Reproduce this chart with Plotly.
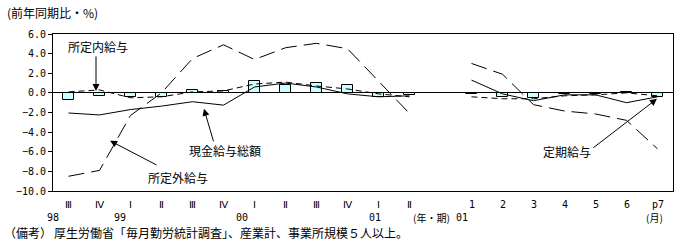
import plotly.graph_objects as go

# slots: 12 quarters (98 III .. 01 II), one empty slot, 7 months (01/1 .. p7)
slot_labels = ["Ⅲ", "Ⅳ", "Ⅰ", "Ⅱ", "Ⅲ", "Ⅳ", "Ⅰ", "Ⅱ", "Ⅲ", "Ⅳ", "Ⅰ", "Ⅱ", "",
               "1", "2", "3", "4", "5", "6", "p7"]
x_idx = list(range(len(slot_labels)))

# 定期給与 (bars)
teiki = [-0.7, -0.35, -0.4, -0.4, 0.27, 0.17, 1.2, 0.8, 1.0, 0.8, -0.4, -0.2, None,
         -0.1, -0.45, -0.5, -0.1, -0.1, 0.1, -0.45]
# 現金給与総額 (solid)
genkin = [-2.05, -2.25, -1.7, -1.35, -0.9, -1.25, 0.6, 1.0, 0.6, -0.1, -0.4, -0.3, None,
          1.3, -0.1, -0.8, -0.2, -0.2, -1.0, -0.4]
# 所定内給与 (short dash)
shoteinai = [0.1, 0.3, -0.5, -0.4, 0.1, 0.2, 0.9, 1.1, 0.7, 0.4, -0.1, -0.4, None,
             -0.4, -0.6, -0.6, -0.3, -0.2, 0.0, -0.3]
# 所定外給与 (long dash)
shoteigai = [-8.5, -7.9, -2.3, 0.0, 3.5, 4.9, 3.4, 4.6, 5.05, 4.5, 1.2, -2.1, None,
             3.0, 1.9, -1.2, -1.85, -2.15, -2.8, -5.7]

# year labels (text, x position in slot units)
year_labels = ["98", "99", "00", "01", "(月)"]
year_pos = [-0.5, 1.66, 5.6, 9.9, 18.9]
period_label = "(年・期)"
month_year_label = "01"

FONT = "Noto Sans CJK JP"
MONO = "DejaVu Sans Mono"

fig = go.Figure()
fig.add_trace(go.Bar(x=x_idx, y=teiki, width=0.37,
                     marker=dict(color="#ccffff", line=dict(color="black", width=1)),
                     showlegend=False))
fig.add_trace(go.Scatter(x=x_idx, y=shoteigai, mode="lines", connectgaps=False,
                         line=dict(color="black", width=1, dash="16px,7px"), showlegend=False))
fig.add_trace(go.Scatter(x=x_idx, y=shoteinai, mode="lines", connectgaps=False,
                         line=dict(color="black", width=1, dash="6px,4px"), showlegend=False))
fig.add_trace(go.Scatter(x=x_idx, y=genkin, mode="lines", connectgaps=False,
                         line=dict(color="black", width=1), showlegend=False))

ann = []
for xi, lab in zip(x_idx, slot_labels):
    if lab:
        ann.append(dict(x=xi, y=-0.089, xref="x", yref="paper", text=lab, showarrow=False,
                        font=dict(size=10, family=MONO, color="black"),
                        xanchor="center", yanchor="middle"))
for lab, xp in zip(year_labels, year_pos):
    fam = FONT if "月" in lab else MONO
    ann.append(dict(x=xp, y=-0.166, xref="x", yref="paper", text=lab, showarrow=False,
                    font=dict(size=10, family=fam, color="black"),
                    xanchor="center", yanchor="middle"))
ann.append(dict(x=12.36, y=-0.166, xref="x", yref="paper", text=period_label, showarrow=False,
                font=dict(size=10, family=FONT, color="black"),
                xanchor="right", yanchor="middle"))
ann.append(dict(x=12.45, y=-0.166, xref="x", yref="paper", text=month_year_label,
                showarrow=False, font=dict(size=10, family=MONO, color="black"),
                xanchor="left", yanchor="middle"))

# series labels
labels = [("所定内給与", 0.95, 4.68), ("現金給与総額", 5.05, -5.9),
          ("所定外給与", 3.53, -8.65), ("定期給与", 16.08, -6.0)]
for t, xx, yy in labels:
    ann.append(dict(x=xx, y=yy, xref="x", yref="y", text=t, showarrow=False,
                    font=dict(size=12, family=FONT, color="black"),
                    xanchor="center", yanchor="middle"))
# arrows (head in data coords, tail offset in px)
arrows = [(0.887, 0.2, 0, -36), (4.37, -1.63, 10, 34),
          (1.34, -4.88, 48, 25), (18.98, -0.61, -65, 50)]
for hx, hy, ax, ay in arrows:
    ann.append(dict(x=hx, y=hy, xref="x", yref="y", ax=ax, ay=ay, text="",
                    showarrow=True, arrowhead=2, arrowsize=1.4, arrowwidth=1,
                    arrowcolor="black"))

ann.append(dict(x=-48/620, y=(191-12)/157, xref="paper", yref="paper", text="(前年同期比・%)",
                showarrow=False, font=dict(size=12, family=FONT, color="black"),
                xanchor="left", yanchor="middle"))
ann.append(dict(x=-51/620, y=(191-232)/157, xref="paper", yref="paper", text="（備考）",
                showarrow=False, font=dict(size=12, family=FONT, color="black"),
                xanchor="left", yanchor="middle"))
ann.append(dict(x=-1/620, y=(191-232)/157, xref="paper", yref="paper",
                text="厚生労働省「毎月勤労統計調査」、産業計、事業所規模５人以上。",
                showarrow=False, font=dict(size=12, family=FONT, color="black"),
                xanchor="left", yanchor="middle"))

fig.update_layout(
    width=680, height=241,
    margin=dict(l=53, r=7, t=34, b=50),
    paper_bgcolor="white", plot_bgcolor="white",
    bargap=0, showlegend=False,
    xaxis=dict(range=[-0.5, 19.5], showticklabels=False, ticks="", showgrid=False,
               zeroline=False, showline=True, linecolor="black", linewidth=1, mirror=True),
    yaxis=dict(range=[-10, 6], dtick=2, tick0=0, tickformat=".1f", showgrid=False,
               zeroline=True, zerolinecolor="black", zerolinewidth=1,
               showline=True, linecolor="black", linewidth=1, mirror=True,
               ticks="outside", ticklen=4, tickcolor="black",
               tickfont=dict(size=10, family=MONO, color="black")),
    annotations=ann,
)
fig.write_html("out.html")
